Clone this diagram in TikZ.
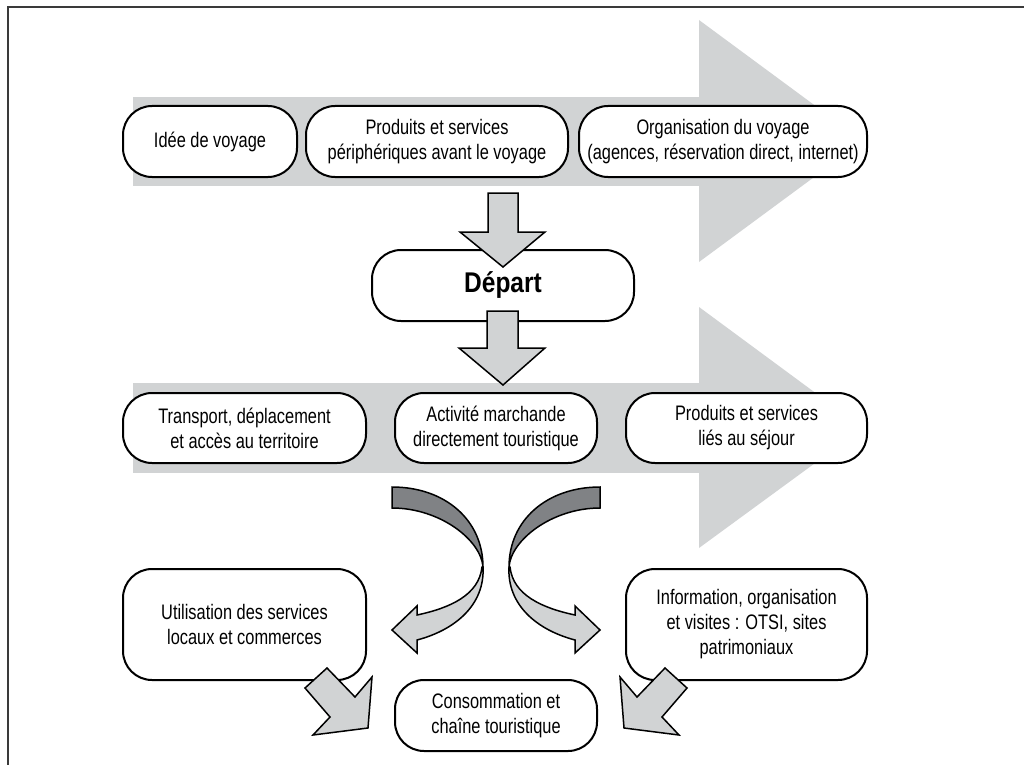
\documentclass[tikz,border=0pt]{standalone}
\usepackage{fontspec}
\setmainfont{Liberation Sans}[FakeStretch=0.78]
\newfontfamily\departfont{Liberation Sans}[FakeStretch=0.86]
\definecolor{band}{HTML}{D1D3D4}
\definecolor{darkrib}{HTML}{808285}
\definecolor{framec}{HTML}{3A3A3A}
\begin{document}
\begin{tikzpicture}[x=1pt,y=-1pt,
  box/.style={draw=black, line width=2pt, fill=white, rounded corners=29pt,
    align=center, inner sep=0pt, font=\fontsize{21}{25}\selectfont},
  blockarrow/.style={draw=black, line width=1.5pt, fill=band, line join=miter},
  ribbon/.style={draw=black, line width=1.5pt, line join=miter},
  bandfill/.style={fill=band, draw=none}]
\useasboundingbox (0,0) rectangle (1024,765);
% frame
\draw[framec, line width=2pt] (1024,7.5) -- (7.5,7.5) -- (7.5,765);
% background bands (big arrows)
\fill[band] (133,97) rectangle (699,186);
\fill[band] (699,20) -- (863,141) -- (699,262) -- cycle;
\fill[band] (133,383) rectangle (699,473);
\fill[band] (699,307) -- (863,428) -- (699,548) -- cycle;
% boxes
\node[box, minimum width=174pt, minimum height=71pt] (idee) at (210,141.5) {Idée de voyage};
\node[box, minimum width=262pt, minimum height=71pt] (prodav) at (437,141.5) {Produits et services\\périphériques avant le voyage};
\node[box, minimum width=288pt, minimum height=71pt] (orga) at (723,141.5) {Organisation du voyage\\(agences, réservation direct, internet)};
\node[box, minimum width=262pt, minimum height=71pt, font=\departfont\bfseries\fontsize{28.5}{32}\selectfont] (depart) at (503,285.5) {Départ};
\node[box, minimum width=243pt, minimum height=70pt] (transp) at (244.5,428) {Transport, déplacement\\et accès au territoire};
\node[box, minimum width=202pt, minimum height=70pt] (activ) at (496,428) {Activité marchande\\directement touristique};
\node[box, minimum width=241pt, minimum height=70pt] (prodsej) at (746.5,428) {Produits et services\\liés au séjour};
\node[box, minimum width=243pt, minimum height=111pt] (util) at (244.5,624.5) {Utilisation des services\\locaux et commerces};
\node[box, minimum width=241pt, minimum height=111pt] (info) at (746.5,624.5) {Information, organisation\\et visites : OTSI, sites\\patrimoniaux};
\node[box, minimum width=202pt, minimum height=71pt] (conso) at (496,715.5) {Consommation et\\chaîne touristique};
% down block arrows
\draw[blockarrow] (488,193) -- (518,193) -- (518,232) -- (545,232) -- (503,267) -- (460,232) -- (488,232) -- cycle;
\draw[blockarrow] (487,311) -- (518,311) -- (518,348) -- (545,348) -- (503,385) -- (459,348) -- (487,348) -- cycle;
% curved ribbon arrows
\foreach \s/\sh in {1/0, -1/992} {
\begin{scope}[shift={(\sh,0)}, xscale=\s]
  \draw[ribbon, fill=darkrib] (392,487) .. controls (445,487) and (483,520) .. (483,567)
     .. controls (481,540) and (440,508) .. (392,508) -- cycle;
  \draw[ribbon, fill=band] (483,567) .. controls (485,605) and (455,630) .. (417,640)
     -- (417,653) -- (392,630) -- (417,606) -- (417,615)
     .. controls (450,608) and (479,595) .. (482,567) -- cycle;
  % diagonal block arrow
  \draw[blockarrow] (305,688) -- (327,668) -- (355,697) -- (372,677) -- (368,728) -- (313,735) -- (330,717) -- cycle;
\end{scope}
}
\end{tikzpicture}
\end{document}
